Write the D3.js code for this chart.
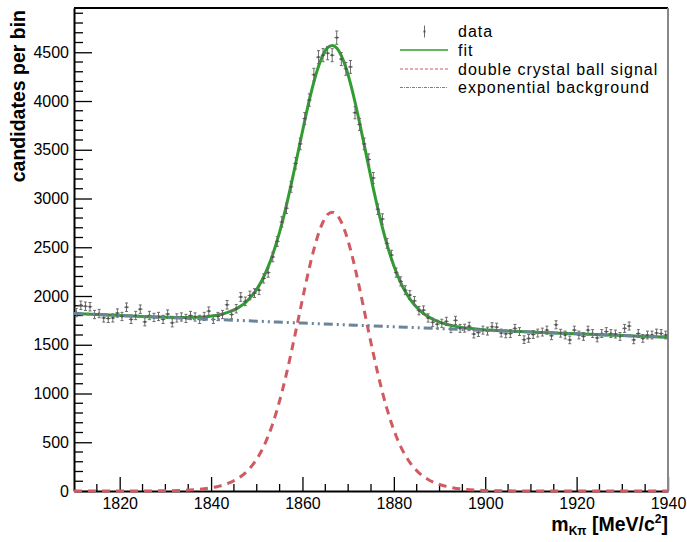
<!DOCTYPE html>
<html><head><meta charset="utf-8">
<script src="https://cdn.jsdelivr.net/npm/d3@7"></script>
<style>
html,body{margin:0;padding:0;background:#fff;}
svg{display:block;font-family:"Liberation Sans",Arial,Helvetica,sans-serif;}
</style></head>
<body>
<svg id="chart" width="687" height="542"></svg>
<script>
// ---------------- data ----------------
const binStart = 1810;          // first bin low edge, MeV (1 MeV bins)
const counts = [
 1830,1905,1895,1890,1810,1820,1775,1770,1775,1825,
 1790,1885,1760,1800,1865,1735,1800,1780,1790,1760,
 1815,1725,1775,1785,1770,1800,1785,1760,1790,1845,
 1760,1790,1810,1910,1810,1870,1990,1945,2005,2030,
 2060,2180,2240,2400,2560,2760,2900,3120,3360,3560,
 3820,4010,4270,4450,4470,4490,4470,4650,4430,4330,
 4350,3880,3760,3560,3400,3210,2890,2790,2540,2420,
 2240,2150,2060,2010,1950,1850,1855,1775,1730,1710,
 1720,1740,1665,1750,1668,1670,1690,1610,1625,1650,
 1640,1685,1680,1620,1612,1615,1668,1635,1552,1565,
 1605,1620,1630,1650,1592,1705,1618,1600,1550,1650,
 1600,1585,1650,1615,1570,1615,1635,1615,1610,1585,
 1668,1692,1550,1615,1565,1600,1600,1620,1615,1600
];
// double crystal ball signal curve (sampled)
const sigX = [1810,1820,1826.5,1830.5,1833.5,1836.5,1838.5,1840.5,1841.5,1842.5,1843.5,1844.5,1845.5,1846.5,1847.5,1848.5,1849.5,1850.5,1851.5,1852.5,1853.5,1854.5,1855.5,1856.5,1857.5,1858.5,1859.5,1860.5,1861.5,1862.5,1863.5,1864.5,1865.5,1866.5,1867.5,1868.5,1869.5,1870.5,1871.5,1872.5,1873.5,1874.5,1875.5,1876.5,1877.5,1878.5,1879.5,1880.5,1881.5,1882.5,1883.5,1884.5,1885.5,1886.5,1887.5,1888.5,1889.5,1890.5,1891.5,1892.5,1894.5,1896.5,1899.5,1902.5,1906.5,1912,1920,1930,1940];
const sigY = [0,0,1,3,6,14,22,37,47,59,75,94,118,148,186,234,293,366,456,564,692,842,1012,1203,1411,1630,1855,2078,2289,2479,2638,2759,2835,2860,2835,2759,2638,2479,2289,2078,1855,1630,1411,1203,1012,842,692,564,456,366,293,234,186,148,118,94,75,59,47,37,22,14,6,3,1,0,0,0,0];
// exponential background curve (sampled)
const bkgX = [1810,1820,1830,1840,1850,1860,1870,1880,1890,1900,1910,1920,1930,1940];
const bkgY = [1820,1800,1780,1761,1742,1722,1704,1685,1666,1648,1630,1612,1595,1577];
// axis ticks
const xMajor = [1820,1840,1860,1880,1900,1920,1940];
const yMajor = [0,500,1000,1500,2000,2500,3000,3500,4000,4500];
const legendLabels = ["data","fit","double crystal ball signal","exponential background"];

// ---------------- layout ----------------
const L = 74, R = 668, T = 8, B = 491;
const svg = d3.select("#chart");
const x = d3.scaleLinear().domain([1810,1940]).range([L,R]);
const y = d3.scaleLinear().domain([0,4954]).range([B,T]);
const bkgAt = d3.scaleLinear().domain(bkgX).range(bkgY);
const fitY = sigX.map((v,i)=> sigY[i] + bkgAt(v));

const colData = "#6a6a6a", colFit = "#2e9e2e", colSig = "#d05a60", colBkg = "#6b8499";

// minor ticks
const xMinor = d3.range(1815,1940,5).filter(v=>!xMajor.includes(v));
const yMinor = d3.range(100,4954,100).filter(v=>!yMajor.includes(v));
svg.append("g").selectAll("line").data(xMinor).join("line")
  .attr("x1",d=>x(d)).attr("x2",d=>x(d)).attr("y1",B).attr("y2",B-7)
  .attr("stroke","#000").attr("stroke-width",1.3);
svg.append("g").selectAll("line").data(yMinor).join("line")
  .attr("x1",L).attr("x2",L+9).attr("y1",d=>y(d)).attr("y2",d=>y(d))
  .attr("stroke","#000").attr("stroke-width",1.3);

// axes
const ax = svg.append("g").attr("transform",`translate(0,${B})`)
  .call(d3.axisBottom(x).tickValues(xMajor).tickSize(-14).tickSizeOuter(0).tickPadding(7).tickFormat(d3.format("d")));
const ay = svg.append("g").attr("transform",`translate(${L},0)`)
  .call(d3.axisLeft(y).tickValues(yMajor).tickSize(-18).tickSizeOuter(0).tickPadding(5).tickFormat(d3.format("d")));
[ax,ay].forEach(g=>{
  g.selectAll("text").attr("font-size",16).attr("fill","#000").attr("font-family","Liberation Sans, Arial, sans-serif");
  g.selectAll(".tick line").attr("stroke","#000").attr("stroke-width",1.3);
  g.select(".domain").attr("stroke","#000").attr("stroke-width",2);
});
// frame top + right
svg.append("line").attr("x1",L).attr("x2",R).attr("y1",T).attr("y2",T).attr("stroke","#000").attr("stroke-width",2);
svg.append("line").attr("x1",R).attr("x2",R).attr("y1",T).attr("y2",B).attr("stroke","#888").attr("stroke-width",2);

// fit
const line = d3.line().x((d,i)=>x(sigX[i])).curve(d3.curveMonotoneX);
svg.append("path").datum(fitY).attr("d",line.y(d=>y(d)))
  .attr("fill","none").attr("stroke",colFit).attr("stroke-width",3);

// data points with error bars
const gData = svg.append("g").attr("stroke",colData).attr("stroke-width",1);
counts.forEach((v,i)=>{
  const c = binStart + i + 0.5, e = Math.sqrt(v);
  const cx = x(c), hw = (x(binStart+1)-x(binStart))/2;
  gData.append("line").attr("x1",cx).attr("x2",cx).attr("y1",y(v-e)).attr("y2",y(v+e));
  gData.append("line").attr("x1",cx-hw).attr("x2",cx+hw).attr("y1",y(v)).attr("y2",y(v));
  gData.append("line").attr("x1",cx-1.5).attr("x2",cx+1.5).attr("y1",y(v-e)).attr("y2",y(v-e));
  gData.append("line").attr("x1",cx-1.5).attr("x2",cx+1.5).attr("y1",y(v+e)).attr("y2",y(v+e));
  gData.append("rect").attr("x",cx-1).attr("y",y(v)-1).attr("width",2).attr("height",2).attr("fill","#505050").attr("stroke","none");
});

// signal
const sigLine = d3.line().x(d=>x(d[0])).y(d=>y(d[1])).curve(d3.curveMonotoneX);
svg.append("path").datum(sigX.map((v,i)=>[v,sigY[i]])).attr("d",sigLine)
  .attr("fill","none").attr("stroke",colSig).attr("stroke-width",3).attr("stroke-dasharray","8,6");
// background
svg.append("path").datum(bkgX.map((v,i)=>[v,bkgY[i]])).attr("d",sigLine)
  .attr("fill","none").attr("stroke",colBkg).attr("stroke-width",3).attr("stroke-dasharray","9,4,2,4,2,4");

// legend
const lg = svg.append("g");
const rowsY = [31.5,50,69,87.5];
lg.append("line").attr("x1",424.5).attr("x2",424.5).attr("y1",rowsY[0]-6).attr("y2",rowsY[0]+6).attr("stroke",colData).attr("stroke-width",1);
lg.append("rect").attr("x",423.5).attr("y",rowsY[0]-1).attr("width",2).attr("height",2).attr("fill","#505050");
lg.append("line").attr("x1",400).attr("x2",448).attr("y1",rowsY[1]).attr("y2",rowsY[1]).attr("stroke",colFit).attr("stroke-width",1.5);
lg.append("line").attr("x1",400).attr("x2",448).attr("y1",rowsY[2]).attr("y2",rowsY[2]).attr("stroke",colSig).attr("stroke-width",1.2).attr("stroke-dasharray","3,2");
lg.append("line").attr("x1",400).attr("x2",448).attr("y1",rowsY[3]).attr("y2",rowsY[3]).attr("stroke",colBkg).attr("stroke-width",1.2).attr("stroke-dasharray","3,1,1,1");
lg.selectAll("text").data(legendLabels).join("text")
  .attr("x",458).attr("y",(d,i)=>rowsY[i]+5.5).attr("font-size",16).attr("letter-spacing","1px")
  .attr("fill","#000").text(d=>d);

// axis titles
svg.append("text").attr("transform","translate(25,10) rotate(-90)").attr("text-anchor","end")
  .attr("font-size",19.5).attr("font-weight","bold").text("candidates per bin");
const xt = svg.append("text").attr("x",668).attr("y",531).attr("text-anchor","end")
  .attr("font-size",19.5).attr("font-weight","bold");
xt.append("tspan").text("m");
xt.append("tspan").attr("font-size",12).attr("dy",4).text("Kπ");
xt.append("tspan").attr("dy",-4).text(" [MeV/c");
xt.append("tspan").attr("font-size",12).attr("dy",-8).text("2");
xt.append("tspan").attr("dy",8).text("]");
</script>
</body></html>
